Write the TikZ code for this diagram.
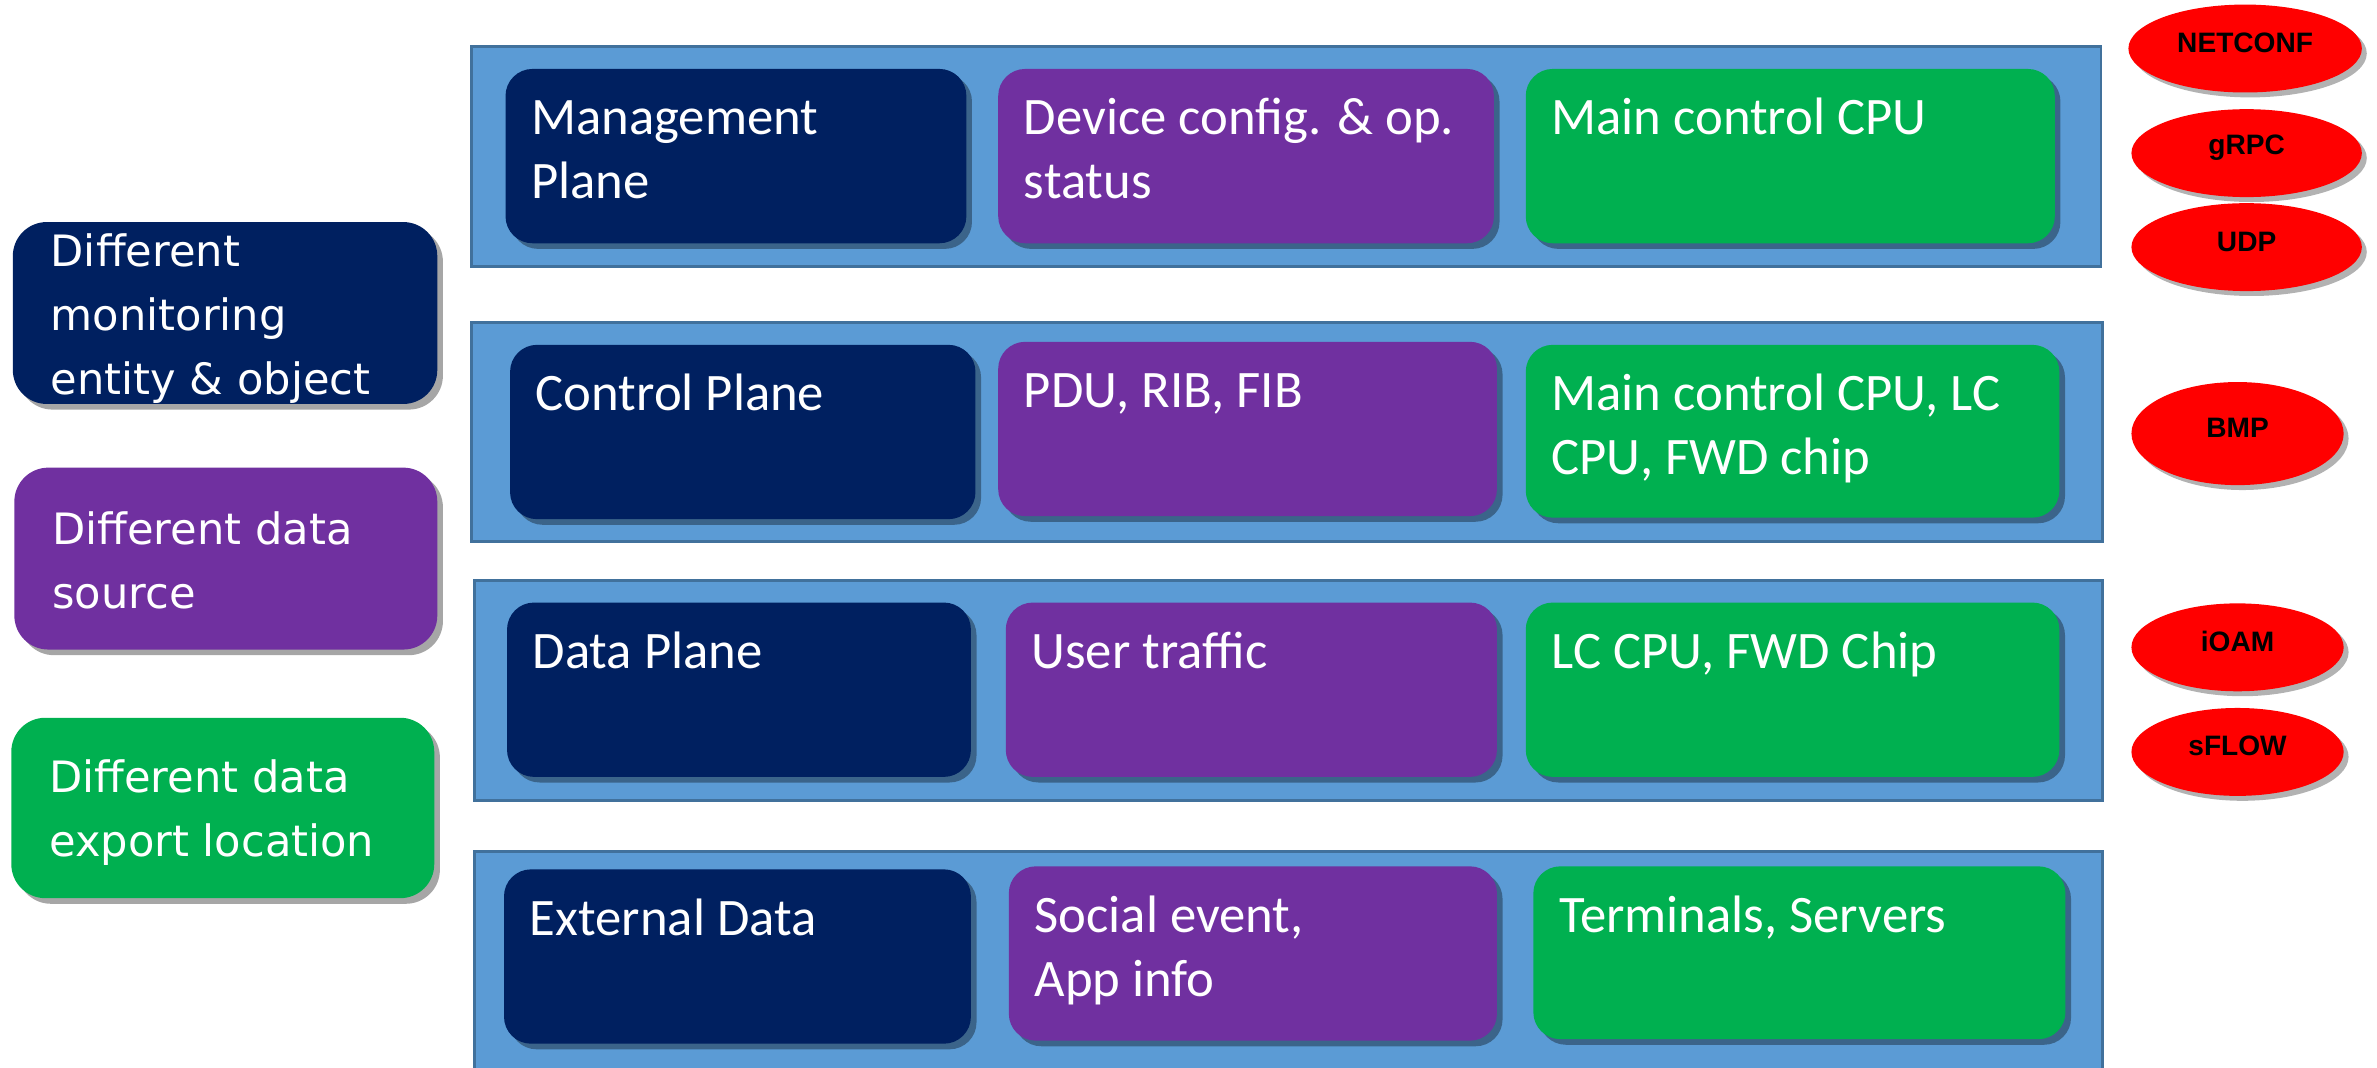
\documentclass[tikz,border=0pt]{standalone}
\usepackage{fontspec}
\setmainfont{Carlito}
\newfontfamily\legfont{DejaVu Sans}
\newfontfamily\elfont{Liberation Sans}
\usetikzlibrary{shadows,shapes.geometric,calc}
\definecolor{bandblue}{HTML}{5B9BD5}
\definecolor{bandedge}{HTML}{41719C}
\definecolor{navyc}{HTML}{002060}
\definecolor{purpc}{HTML}{7030A0}
\definecolor{grnc}{HTML}{00B050}
\definecolor{redov}{HTML}{FF0000}
\newcommand\celllines[1]{\vtop{\halign{##\hfil\cr#1\crcr}}}
\tikzset{
  band/.style={draw=bandedge,fill=bandblue,line width=0.8pt},
  cell/.style={rounded corners=0.27cm,inner sep=0pt,
    drop shadow={shadow xshift=1.6pt,shadow yshift=-1.6pt,opacity=0.35,fill=black}},
  celltext/.style={inner sep=0pt,text=white,font=\fontsize{15}{18.2}\selectfont},
  legbox/.style={rounded corners=0.34cm,inner sep=0pt,
    drop shadow={shadow xshift=1.6pt,shadow yshift=-1.6pt,opacity=0.35,fill=black}},
  legtext/.style={inner sep=0pt,text=white,font=\legfont\fontsize{12.3}{18.2}\selectfont},
  ell/.style={ellipse,fill=redov,inner sep=0pt,
    drop shadow={shadow xshift=1.4pt,shadow yshift=-1.4pt,opacity=0.3,fill=black}},
  eltext/.style={inner sep=0pt,text=black,font=\elfont\bfseries\fontsize{8}{9.6}\selectfont,yshift=1.6pt}
}
\newcommand\cellbox[7]{%
  \node[cell,fill=#6,minimum width={(#4-#2)*0.01516cm},minimum height={(#5-#3)*0.01516cm},anchor=north west] (#1) at (#2,#3) {};
  \node[celltext,anchor=base west] (#1t) at ($(#1.north west)+(17,44)$) {\celllines{#7}};}
\newcommand\legendbox[8]{%
  \node[legbox,fill=#6,minimum width={(#4-#2)*0.01516cm},minimum height={(#5-#3)*0.01516cm},anchor=north west] (#1) at (#2,#3) {};
  \node[legtext,anchor=base west] (#1t) at ($(#1.north west)+(25,#7)$) {\celllines{#8}};}
\newcommand\proto[6]{%
  \node[ell,minimum width={2*#4*0.01516cm},minimum height={2*#5*0.01516cm},label={[eltext]center:#6}] (#1) at (#2,#3) {};}
\begin{document}
\begin{tikzpicture}[x=0.01516cm,y=-0.01516cm]
\useasboundingbox (0,0) rectangle (1568,704);
% bands
\node[band,inner sep=0pt,minimum width={1075*0.01516cm},minimum height={145*0.01516cm},anchor=north west] (band1) at (310,30) {};
\node[band,inner sep=0pt,minimum width={1076*0.01516cm},minimum height={144*0.01516cm},anchor=north west] (band2) at (310,212) {};
\node[band,inner sep=0pt,minimum width={1074*0.01516cm},minimum height={145*0.01516cm},anchor=north west] (band3) at (312,382) {};
\node[band,inner sep=0pt,minimum width={1074*0.01516cm},minimum height={150*0.01516cm},anchor=north west] (band4) at (312,561) {};
% row 1
\cellbox{m1}{333}{45}{637}{160}{navyc}{Management\cr Plane}
\cellbox{m2}{658}{45}{985}{160}{purpc}{Device config. \& op.\cr status}
\cellbox{m3}{1006}{45}{1355}{160}{grnc}{Main control CPU}
% row 2
\cellbox{c1}{336}{227}{643}{342}{navyc}{Control Plane}
\cellbox{c2}{658}{225}{987}{340}{purpc}{PDU, RIB, FIB}
\cellbox{c3}{1006}{227}{1358}{341}{grnc}{Main control CPU, LC\cr CPU, FWD chip}
% row 3
\cellbox{d1}{334}{397}{640}{512}{navyc}{Data Plane}
\cellbox{d2}{663}{397}{987}{512}{purpc}{User traffic}
\cellbox{d3}{1006}{397}{1358}{512}{grnc}{LC CPU, FWD Chip}
% row 4
\cellbox{e1}{332}{573}{640}{688}{navyc}{External Data}
\cellbox{e2}{665}{571}{987}{686}{purpc}{Social event,\cr App info}
\cellbox{e3}{1011}{571}{1362}{685}{grnc}{Terminals, Servers}
% legend
\legendbox{l1}{8}{146}{288}{266}{navyc}{30}{Different\cr monitoring\cr entity \& object}
\legendbox{l2}{9}{308}{288}{428}{purpc}{51}{Different data\cr source}
\legendbox{l3}{7}{473}{286}{592}{grnc}{50}{Different data\cr export location}
% protocols
\proto{netconf}{1481}{32}{77}{29}{NETCONF}
\proto{grpc}{1482}{101}{76}{29}{gRPC}
\proto{udp}{1482}{163}{76}{29}{UDP}
\proto{bmp}{1476}{286}{70}{34}{BMP}
\proto{ioam}{1476}{427}{70}{29}{iOAM}
\proto{sflow}{1476}{496}{70}{29}{sFLOW}
\end{tikzpicture}
\end{document}
